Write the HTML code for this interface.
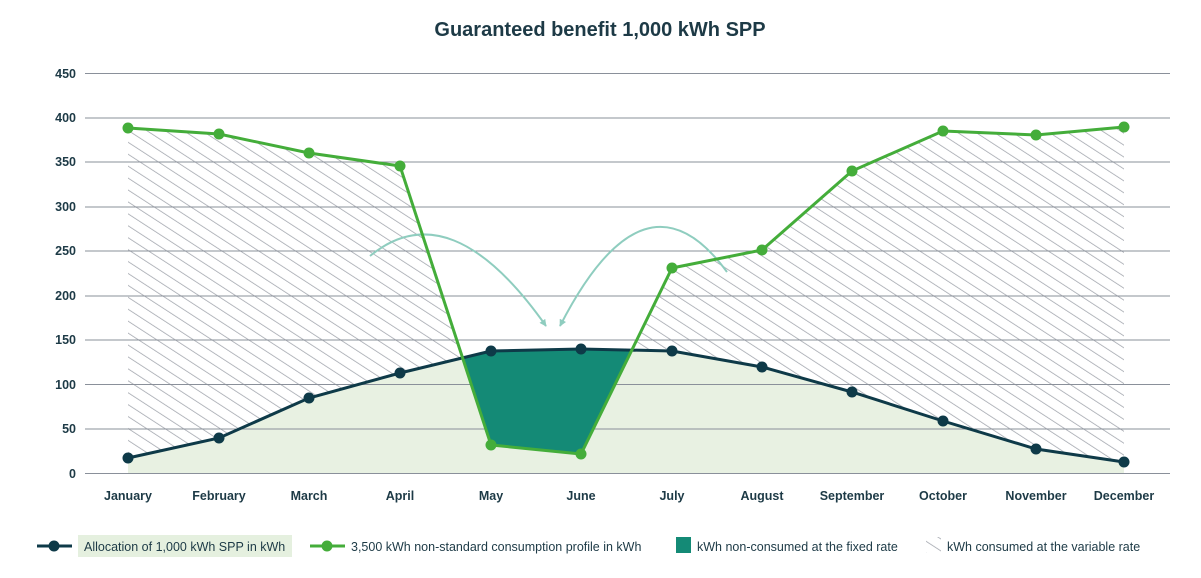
<!DOCTYPE html>
<html><head><meta charset="utf-8"><style>
body{margin:0;background:#fff;}
svg{display:block;font-family:"Liberation Sans",sans-serif;}
</style></head><body>
<svg width="1201" height="578" viewBox="0 0 1201 578" xmlns="http://www.w3.org/2000/svg">
<defs>
<pattern id="h" patternUnits="userSpaceOnUse" width="10" height="10" patternTransform="rotate(-57)">
<line x1="0" y1="0" x2="0" y2="10" stroke="#9ea2aa" stroke-width="1.5"/>
</pattern>
<marker id="ar" viewBox="0 0 10 10" refX="9" refY="5" markerWidth="10" markerHeight="7" markerUnits="userSpaceOnUse" orient="auto">
<path d="M0,0 L10,5 L0,10 z" fill="#8fcdbf"/>
</marker>
</defs>
<text x="600" y="36" text-anchor="middle" font-size="20" font-weight="bold" fill="#1d3a46">Guaranteed benefit 1,000 kWh SPP</text>
<polygon fill="#e8f1e2" points="128,473 128,458 219,438 309,398 400,373 491,351 581,349 672,351 762,367 852,392 943,421 1036,449 1124,462 1124,473"/>
<polygon fill="url(#h)" points="128,128 219,134 309,153 400,166 491,445 581,454 672,268 762,250 852,171 943,131 1036,135 1124,127 1124,462 1036,449 943,421 852,392 762,367 672,351 581,349 491,351 400,373 309,398 219,438 128,458"/>
<g stroke="#8a909a" stroke-width="1">
<line x1="85" y1="73.5" x2="1170" y2="73.5"/><line x1="85" y1="118" x2="1170" y2="118"/>
<line x1="85" y1="162" x2="1170" y2="162"/><line x1="85" y1="207" x2="1170" y2="207"/>
<line x1="85" y1="251" x2="1170" y2="251"/><line x1="85" y1="296" x2="1170" y2="296"/>
<line x1="85" y1="340" x2="1170" y2="340"/><line x1="85" y1="384.5" x2="1170" y2="384.5"/>
<line x1="85" y1="429" x2="1170" y2="429"/><line x1="85" y1="473.5" x2="1170" y2="473.5"/>
</g>
<g font-size="12.5" font-weight="bold" fill="#1d3a46" text-anchor="end">
<text x="76" y="78">450</text><text x="76" y="122">400</text><text x="76" y="166">350</text>
<text x="76" y="211">300</text><text x="76" y="255">250</text><text x="76" y="300">200</text>
<text x="76" y="344">150</text><text x="76" y="389">100</text><text x="76" y="433">50</text><text x="76" y="478">0</text>
</g>
<polygon fill="#148a76" points="462.6,358 491,351 581,349 631.8,350 581,454 491,445"/>
<g fill="none" stroke="#8fcdbf" stroke-width="2">
<path d="M370,256 Q450,190 546,326" marker-end="url(#ar)"/>
<path d="M727,272 Q645,160 560,326" marker-end="url(#ar)"/>
</g>
<polyline fill="none" stroke="#0e3a48" stroke-width="3" points="128,458 219,438 309,398 400,373 491,351 581,349 672,351 762,367 852,392 943,421 1036,449 1124,462"/>
<g fill="#0e3a48">
<circle cx="128" cy="458" r="5.5"/><circle cx="219" cy="438" r="5.5"/><circle cx="309" cy="398" r="5.5"/><circle cx="400" cy="373" r="5.5"/><circle cx="491" cy="351" r="5.5"/><circle cx="581" cy="349" r="5.5"/><circle cx="672" cy="351" r="5.5"/><circle cx="762" cy="367" r="5.5"/><circle cx="852" cy="392" r="5.5"/><circle cx="943" cy="421" r="5.5"/><circle cx="1036" cy="449" r="5.5"/><circle cx="1124" cy="462" r="5.5"/>
</g>
<polyline fill="none" stroke="#44ad3a" stroke-width="3" points="128,128 219,134 309,153 400,166 491,445 581,454 672,268 762,250 852,171 943,131 1036,135 1124,127"/>
<g fill="#44ad3a">
<circle cx="128" cy="128" r="5.5"/><circle cx="219" cy="134" r="5.5"/><circle cx="309" cy="153" r="5.5"/><circle cx="400" cy="166" r="5.5"/><circle cx="491" cy="445" r="5.5"/><circle cx="581" cy="454" r="5.5"/><circle cx="672" cy="268" r="5.5"/><circle cx="762" cy="250" r="5.5"/><circle cx="852" cy="171" r="5.5"/><circle cx="943" cy="131" r="5.5"/><circle cx="1036" cy="135" r="5.5"/><circle cx="1124" cy="127" r="5.5"/>
</g>
<g font-size="12.5" font-weight="bold" fill="#1d3a46" text-anchor="middle">
<text x="128" y="500">January</text><text x="219" y="500">February</text><text x="309" y="500">March</text><text x="400" y="500">April</text><text x="491" y="500">May</text><text x="581" y="500">June</text><text x="672" y="500">July</text><text x="762" y="500">August</text><text x="852" y="500">September</text><text x="943" y="500">October</text><text x="1036" y="500">November</text><text x="1124" y="500">December</text>
</g>
<g font-size="12.5" fill="#1d3a46">
<line x1="37" y1="546" x2="72" y2="546" stroke="#0e3a48" stroke-width="3"/><circle cx="54" cy="546" r="5.5" fill="#0e3a48"/>
<rect x="78" y="535" width="214" height="22" fill="#e5f0df"/>
<text x="84" y="551">Allocation of 1,000 kWh SPP in kWh</text>
<line x1="310" y1="546" x2="345" y2="546" stroke="#44ad3a" stroke-width="3"/><circle cx="327" cy="546" r="5.5" fill="#44ad3a"/>
<text x="351" y="551">3,500 kWh non-standard consumption profile in kWh</text>
<rect x="676" y="537" width="15" height="16" fill="#148a76"/>
<text x="697" y="551">kWh non-consumed at the fixed rate</text>
<rect x="926" y="537" width="15" height="16" fill="url(#h)"/>
<text x="947" y="551">kWh consumed at the variable rate</text>
</g>
</svg>
</body></html>
